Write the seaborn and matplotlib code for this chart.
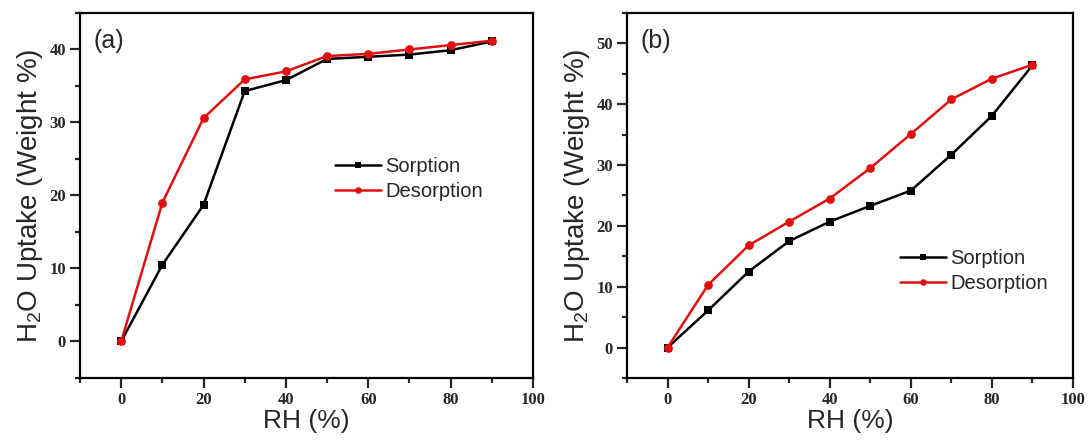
import numpy as np
import pandas as pd
import matplotlib
matplotlib.use("Agg")
import matplotlib.pyplot as plt
from matplotlib.ticker import MultipleLocator
import seaborn as sns

# Relative humidity steps (%)
rh = [0, 10, 20, 30, 40, 50, 60, 70, 80, 90]

# Panel (a): water uptake (wt %)
a_sorption = [0, 10.5, 18.7, 34.3, 35.8, 38.7, 39.0, 39.3, 39.9, 41.1]
a_desorption = [0, 19.0, 30.6, 35.9, 37.0, 39.1, 39.4, 40.0, 40.6, 41.2]

# Panel (b): water uptake (wt %)
b_sorption = [0, 6.1, 12.5, 17.5, 20.7, 23.3, 25.8, 31.7, 38.1, 46.4]
b_desorption = [0, 10.3, 16.8, 20.7, 24.5, 29.5, 35.1, 40.8, 44.2, 46.5]

series_names = ["Sorption", "Desorption"]
panel_labels = ["(a)", "(b)"]


def long_frame(sorp, desorp):
    return pd.DataFrame({
        "RH": rh + rh,
        "uptake": sorp + desorp,
        "series": [series_names[0]] * len(rh) + [series_names[1]] * len(rh),
    })


sns.set_style("ticks")
plt.rcParams["font.family"] = ["Liberation Sans", "DejaVu Sans"]
plt.rcParams["mathtext.fontset"] = "custom"
plt.rcParams["mathtext.rm"] = "Liberation Sans"

fig = plt.figure(figsize=(10.91, 4.46), dpi=100)
ax_a = fig.add_axes([0.0733, 0.1525, 0.4152, 0.8184])
ax_b = fig.add_axes([0.5747, 0.1525, 0.4088, 0.8184])

palette = {"Sorption": "black", "Desorption": "#e01010"}
markers = {"Sorption": "s", "Desorption": "o"}

panels = [
    (ax_a, long_frame(a_sorption, a_desorption), (-5, 45), (0.563, 0.545)),
    (ax_b, long_frame(b_sorption, b_desorption), (-5, 55), (0.612, 0.292)),
]

tick_font = {"family": "Liberation Serif", "weight": "bold", "size": 12}

for (ax, df, ylim, leg_pos), tag in zip(panels, panel_labels):
    sns.lineplot(
        data=df, x="RH", y="uptake", hue="series", style="series",
        hue_order=series_names, style_order=series_names,
        palette=palette, markers=markers, dashes=False,
        linewidth=1.8, markersize=6.3, markeredgewidth=0,
        ax=ax,
    )
    ax.set_xlim(-10, 100)
    ax.set_ylim(*ylim)
    ax.xaxis.set_major_locator(MultipleLocator(20))
    ax.xaxis.set_minor_locator(MultipleLocator(10))
    ax.yaxis.set_major_locator(MultipleLocator(10))
    ax.yaxis.set_minor_locator(MultipleLocator(5))
    ax.tick_params(which="major", direction="out", length=7, width=1.6,
                   pad=3, top=False, right=False)
    ax.tick_params(which="minor", direction="out", length=3.5, width=1.6,
                   top=False, right=False)
    for lbl in ax.get_xticklabels() + ax.get_yticklabels():
        lbl.set_fontproperties(tick_font)
    for sp in ax.spines.values():
        sp.set_visible(True)
        sp.set_linewidth(1.6)
        sp.set_color("black")
    ax.set_xlabel("RH (%)", fontsize=19, labelpad=1)
    ax.set_ylabel(r"H$\mathregular{_2}$O Uptake (Weight %)", fontsize=20, labelpad=3)
    ax.text(0.03, 0.955, tag, transform=ax.transAxes, fontsize=18,
            ha="left", va="top")
    ax.legend(loc="center left", bbox_to_anchor=leg_pos, frameon=False,
              fontsize=14.5, handlelength=2.3, handletextpad=0.2,
              labelspacing=0.3, borderpad=0, borderaxespad=0,
              markerscale=0.75)

fig.savefig("out.png", dpi=100)
